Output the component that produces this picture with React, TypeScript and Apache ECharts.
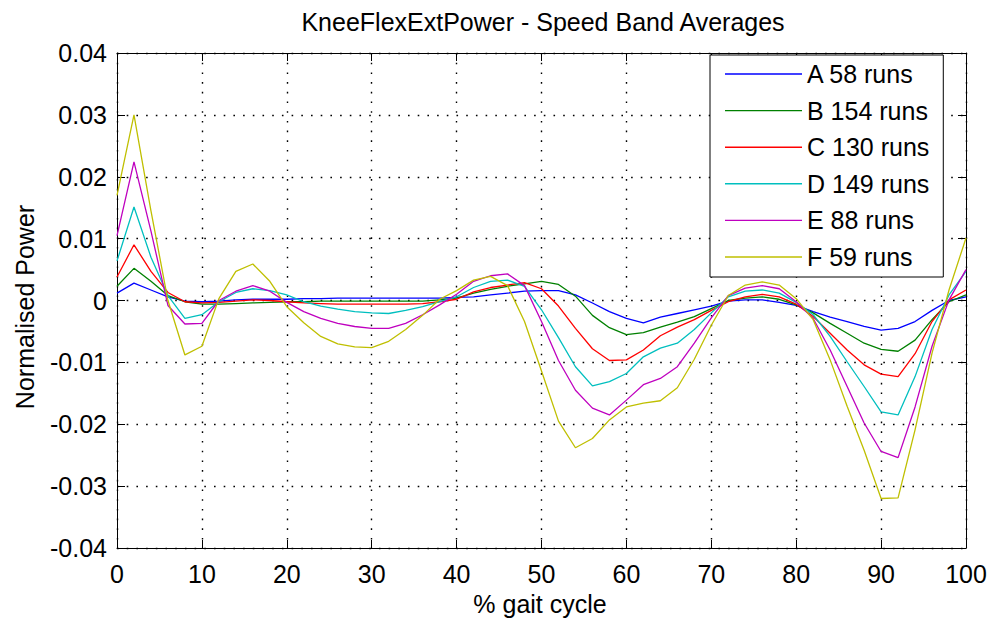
import React, { useEffect, useRef } from "react";
import * as echarts from "echarts";

// % of gait cycle at which each band average was sampled
const gaitPct = [
  0, 2, 4, 6, 8, 10, 12, 14, 16, 18, 20, 22, 24, 26, 28, 30, 32, 34, 36, 38, 40,
  42, 44, 46, 48, 50, 52, 54, 56, 58, 60, 62, 64, 66, 68, 70, 72, 74, 76, 78, 80,
  82, 84, 86, 88, 90, 92, 94, 96, 98, 100,
];

const bandA = [
  0.0012, 0.0028, 0.0017, 0.0006, -0.0001, -0.0002, -0.0001, 0.0001, 0.0002, 0.0002, 0.0002,
  0.0003, 0.0003, 0.0004, 0.0004, 0.0004, 0.0004, 0.0004, 0.0004, 0.0004, 0.0005,
  0.0006, 0.0009, 0.0012, 0.0015, 0.0016, 0.0016, 0.0009, -0.0004, -0.0018, -0.0029,
  -0.0036, -0.0027, -0.0021, -0.0015, -0.0009, -0.0001, 0.0001, 0.0001, -0.0003, -0.0008,
  -0.0018, -0.0027, -0.0034, -0.0042, -0.0048, -0.0045, -0.0034, -0.0016, 0.0, 0.0006,
];

const bandB = [
  0.0023, 0.0052, 0.0031, 0.0008, -0.0002, -0.0006, -0.0006, -0.0005, -0.0004, -0.0003, -0.0002,
  -0.0002, -0.0001, -0.0001, -0.0001, -0.0001, -0.0001, -0.0001, -0.0001, 0.0001, 0.0004,
  0.0012, 0.0018, 0.0023, 0.0027, 0.0031, 0.0026, 0.0007, -0.0024, -0.0044, -0.0055,
  -0.0052, -0.0043, -0.0035, -0.0026, -0.0013, 0.0, 0.0004, 0.0006, 0.0002, -0.0007,
  -0.002, -0.0037, -0.0053, -0.0069, -0.0079, -0.0082, -0.0064, -0.0031, -0.0002, 0.0009,
];

const bandC = [
  0.0038, 0.009, 0.0047, 0.0013, -0.0002, -0.0004, -0.0003, -0.0001, 0.0001, 0.0, -0.0002,
  -0.0004, -0.0005, -0.0006, -0.0006, -0.0006, -0.0006, -0.0006, -0.0005, -0.0002, 0.0002,
  0.0014, 0.0021, 0.0025, 0.0029, 0.0019, -0.0009, -0.0045, -0.0078, -0.0097, -0.0096,
  -0.008, -0.0057, -0.0043, -0.0031, -0.0016, -0.0002, 0.0006, 0.001, 0.0006, -0.0006,
  -0.0026, -0.0053, -0.008, -0.0104, -0.0119, -0.0123, -0.0086, -0.0034, 0.0001, 0.0017,
];

const bandD = [
  0.0064, 0.0151, 0.007, 0.0008, -0.0029, -0.0023, -0.0002, 0.0013, 0.0019, 0.0016, 0.0009,
  -0.0002, -0.0009, -0.0014, -0.0018, -0.002, -0.0021, -0.0016, -0.001, -0.0002, 0.0006,
  0.0021, 0.0031, 0.0033, 0.0023, -0.0015, -0.006, -0.0107, -0.0138, -0.0131, -0.0118,
  -0.0091, -0.0077, -0.0069, -0.0047, -0.002, 0.0006, 0.0015, 0.0017, 0.0012, -0.0003,
  -0.0023, -0.0058, -0.0099, -0.0139, -0.018, -0.0185, -0.0123, -0.0047, 0.0009, 0.0047,
];

const bandE = [
  0.0105, 0.0224, 0.0112, -0.0008, -0.0038, -0.0037, 0.0, 0.0015, 0.0024, 0.0015, -0.0003,
  -0.0018, -0.0029, -0.0037, -0.0042, -0.0045, -0.0045, -0.0037, -0.0023, -0.0007, 0.001,
  0.0031, 0.004, 0.0043, 0.0024, -0.0034, -0.0097, -0.0145, -0.0174, -0.0185, -0.0161,
  -0.0136, -0.0126, -0.0107, -0.0069, -0.0028, 0.0008, 0.002, 0.0024, 0.0019, -0.0002,
  -0.0029, -0.008, -0.0139, -0.0198, -0.0244, -0.0254, -0.0172, -0.0074, 0.0001, 0.005,
];

const bandF = [
  0.017, 0.03, 0.0145, 0.0, -0.0088, -0.0074, 0.0003, 0.0047, 0.0059, 0.0031, -0.001,
  -0.0036, -0.0058, -0.007, -0.0075, -0.0076, -0.0066, -0.0047, -0.0024, 0.0002, 0.0016,
  0.0033, 0.0039, 0.0024, -0.0034, -0.0114, -0.0195, -0.0238, -0.0223, -0.0193, -0.0172,
  -0.0166, -0.0162, -0.0141, -0.0095, -0.004, 0.0008, 0.0025, 0.003, 0.0025, 0.0003,
  -0.0031, -0.0096, -0.0171, -0.0242, -0.032, -0.0319, -0.0209, -0.0085, 0.0017, 0.0101,
];

const bandNames = ["A 58 runs", "B 154 runs", "C 130 runs", "D 149 runs", "E 88 runs", "F 59 runs"];
const bandValues = [bandA, bandB, bandC, bandD, bandE, bandF];
const bandColors = ["#0000ff", "#008000", "#ff0000", "#00bfbf", "#bf00bf", "#bfbf00"];

const yTickLabel = (v: number) => {
  const r = Math.round(v * 100) / 100;
  return r === 0 ? "0" : r.toFixed(2);
};

const FONT = "'Liberation Sans', Arial, Helvetica, sans-serif";
const FS = 25;

export default function App() {
  const ref = useRef<HTMLDivElement>(null);

  useEffect(() => {
    if (!ref.current) return;
    const chart = echarts.init(ref.current, undefined, { renderer: "svg" });

    const axisLine = { show: true, onZero: false, lineStyle: { color: "#000", width: 1 } };
    const tick = { show: true, inside: true, length: 8, lineStyle: { color: "#000", width: 1 } };
    const grid = { show: true, lineStyle: { color: "#000", width: 1.4, type: [1.6, 8.1] as any } };

    chart.setOption({
      animation: false,
      backgroundColor: "#fff",
      textStyle: { fontFamily: FONT },
      title: {
        text: "KneeFlexExtPower - Speed Band Averages",
        left: 538,
        top: 4,
        textAlign: "center",
        textStyle: { fontFamily: FONT, fontSize: FS, fontWeight: "normal", color: "#000" },
      },
      grid: { left: 117, right: 26, top: 53, bottom: 76, containLabel: false },
      legend: {
        orient: "vertical",
        left: 710,
        top: 55,
        data: bandNames,
        icon: "rect",
        itemWidth: 77,
        itemHeight: 1.4,
        itemGap: 11.6,
        padding: [6.5, 14, 7.5, 15],
        backgroundColor: "#fff",
        borderColor: "#000",
        borderWidth: 1,
        borderRadius: 0,
        textStyle: { fontFamily: FONT, fontSize: FS, lineHeight: 25, color: "#000" },
      },
      xAxis: [
        {
          type: "value",
          min: 0,
          max: 100,
          interval: 10,
          position: "bottom",
          axisLine,
          axisTick: tick,
          splitLine: grid,
          axisLabel: { fontFamily: FONT, fontSize: FS, color: "#000", margin: 13 },
        },
        {
          type: "value",
          min: 0,
          max: 100,
          interval: 10,
          position: "top",
          axisLine,
          axisTick: tick,
          splitLine: { show: false },
          axisLabel: { show: false },
        },
      ],
      yAxis: [
        {
          type: "value",
          min: -0.04,
          max: 0.04,
          interval: 0.01,
          position: "left",
          axisLine,
          axisTick: tick,
          splitLine: grid,
          axisLabel: { fontFamily: FONT, fontSize: FS, color: "#000", margin: 10, formatter: yTickLabel },
        },
        {
          type: "value",
          min: -0.04,
          max: 0.04,
          interval: 0.01,
          position: "right",
          axisLine,
          axisTick: tick,
          splitLine: { show: false },
          axisLabel: { show: false },
        },
      ],
      graphic: [
        {
          type: "text",
          x: 25,
          y: 307,
          rotation: Math.PI / 2,
          style: {
            text: "Normalised Power",
            font: `${FS}px ${FONT}`,
            fill: "#000",
            align: "center",
            verticalAlign: "middle",
          },
        },
        {
          type: "text",
          x: 540,
          y: 604,
          style: {
            text: "% gait cycle",
            font: `${FS}px ${FONT}`,
            fill: "#000",
            align: "center",
            verticalAlign: "middle",
          },
        },
      ],
      series: bandNames.map((name, i) => ({
        name,
        type: "line",
        xAxisIndex: 0,
        yAxisIndex: 0,
        data: gaitPct.map((p, j) => [p, bandValues[i][j]]),
        showSymbol: false,
        symbol: "none",
        color: bandColors[i],
        lineStyle: { color: bandColors[i], width: 1.3 },
        z: 3,
      })),
    });

    return () => chart.dispose();
  }, []);

  return (
    <div
      ref={ref}
      style={{ position: "fixed", left: 0, top: 0, width: 992, height: 624, background: "#fff" }}
    />
  );
}
